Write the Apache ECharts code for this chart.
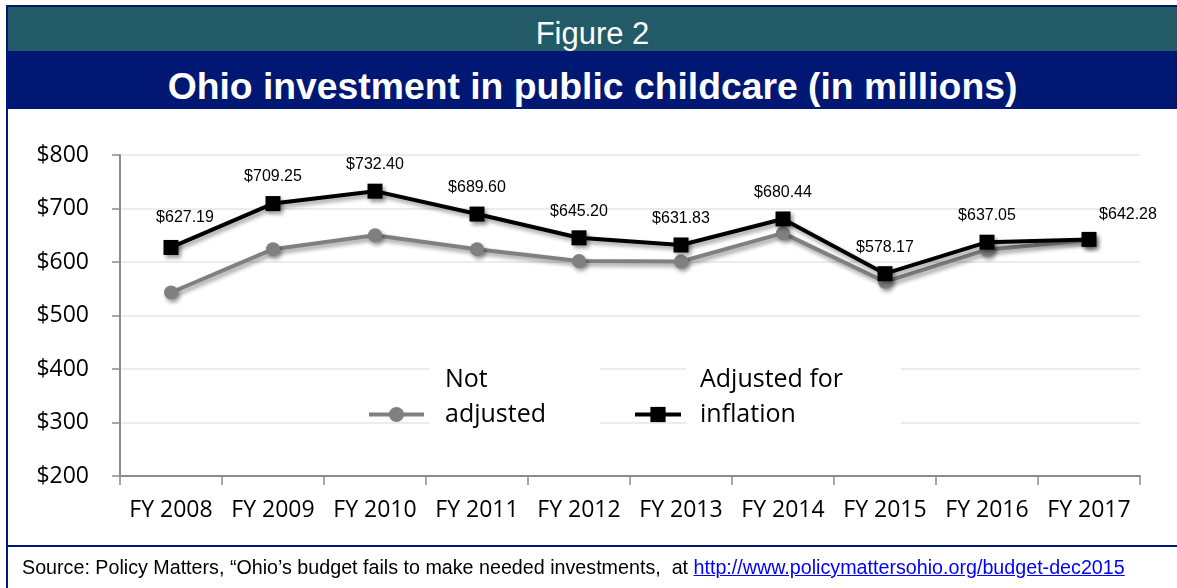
<!DOCTYPE html>
<html>
<head>
<meta charset="utf-8">
<script src="https://cdn.jsdelivr.net/npm/echarts@6/dist/echarts.min.js"></script>
<style>
  html, body { margin: 0; padding: 0; background: #fff; }
  #page { position: relative; width: 1177px; height: 588px; overflow: hidden; background: #fff; }
  #chart { position: absolute; left: 0; top: 0; width: 1177px; height: 588px; }
  .bar { position: absolute; }
  #borderTop { left: 6px; top: 5px; width: 1171px; height: 2px; background: #001870; }
  #borderLeft { left: 6px; top: 5px; width: 2px; height: 583px; background: #001870; }
  #figBand { left: 8px; top: 7px; width: 1169px; height: 44px; background: #235a68; }
  #titleBand { left: 8px; top: 51px; width: 1169px; height: 58px; background: #001873; }
  #srcRule { left: 8px; top: 545px; width: 1169px; height: 2px; background: #001870; }
  .head { position: absolute; left: 8px; width: 1169px; text-align: center; color: #fff;
          font-family: "Liberation Sans", Arial, sans-serif; line-height: 1; white-space: nowrap; }
  #figLabel { top: 18px; font-size: 31px; }
  #mainTitle { top: 68px; font-size: 37.3px; font-weight: bold; }
  #source { position: absolute; left: 22px; top: 558px; font-family: "Liberation Sans", Arial, sans-serif;
            font-size: 19.7px; line-height: 1; color: #000; white-space: nowrap; }
  #source a { color: #0000ff; text-decoration: underline; }
</style>
</head>
<body>
<div id="page">
  <div id="chart"></div>
  <div class="bar" id="figBand"></div>
  <div class="bar" id="titleBand"></div>
  <div class="bar" id="borderTop"></div>
  <div class="bar" id="borderLeft"></div>
  <div class="bar" id="srcRule"></div>
  <div class="head" id="figLabel">Figure 2</div>
  <div class="head" id="mainTitle">Ohio investment in public childcare (in millions)</div>
  <div id="source">Source: Policy Matters, “Ohio’s budget fails to make needed investments,&nbsp; at <a href="http://www.policymattersohio.org/budget-dec2015">http://www.policymattersohio.org/budget-dec2015</a></div>
</div>
<script>
// Fiscal years on the category axis
const years = ['FY 2008', 'FY 2009', 'FY 2010', 'FY 2011', 'FY 2012',
               'FY 2013', 'FY 2014', 'FY 2015', 'FY 2016', 'FY 2017'];

// Spending in millions of dollars
const notAdjusted = [543, 624, 650, 624, 602, 601, 654, 563, 623, 641];
const adjustedForInflation = [627.19, 709.25, 732.40, 689.60, 645.20,
                              631.83, 680.44, 578.17, 637.05, 642.28];

// Value axis range and step
const yMin = 200;
const yMax = 800;
const yStep = 100;

const seriesNames = ['Not\nadjusted', 'Adjusted for\ninflation'];

// Nudges for the two end labels so they clear the axis and the edge
const labelNudge = { 0: [14, -3], 9: [39, 2] };

const markerShadow = {
  shadowBlur: 4,
  shadowOffsetX: 2,
  shadowOffsetY: 3,
  shadowColor: 'rgba(0,0,0,0.4)'
};

const axisFont = { fontFamily: '"Open Sans", sans-serif', fontSize: 23, color: '#000' };

function legendBlock(name, left, iconWidth, pad) {
  return {
    data: [name],
    left: left,
    top: 362,
    padding: 0,
    orient: 'horizontal',
    itemWidth: iconWidth,
    itemHeight: 19,
    selectedMode: false,
    formatter: n => n + '\n',
    itemStyle: { shadowBlur: 0, shadowOffsetX: 0, shadowOffsetY: 0, shadowColor: 'transparent' },
    lineStyle: { width: 4, shadowBlur: 0, shadowOffsetX: 0, shadowOffsetY: 0, shadowColor: 'transparent' },
    textStyle: {
      fontFamily: '"Open Sans", sans-serif',
      fontSize: 25,
      lineHeight: 35,
      color: '#000',
      backgroundColor: '#fff',
      padding: pad
    }
  };
}

const chart = echarts.init(document.getElementById('chart'), null, { renderer: 'canvas' });

chart.setOption({
  animation: false,
  backgroundColor: 'transparent',
  grid: { left: 120, right: 37, top: 155, bottom: 112, containLabel: false },
  legend: [
    legendBlock(seriesNames[0], 367, 55, [0, 54, 0, 16]),
    legendBlock(seriesNames[1], 633, 46, [0, 58, 0, 14])
  ],
  xAxis: {
    type: 'category',
    data: years,
    boundaryGap: true,
    axisLine: { show: true, lineStyle: { color: '#8c8c8c', width: 2 } },
    axisTick: { show: true, length: 9, alignWithLabel: false, lineStyle: { color: '#8c8c8c', width: 1.5 } },
    axisLabel: Object.assign({ margin: 23, interval: 0 }, axisFont),
    splitLine: { show: false }
  },
  yAxis: {
    type: 'value',
    min: yMin,
    max: yMax,
    interval: yStep,
    axisLine: { show: true, lineStyle: { color: '#8c8c8c', width: 2 } },
    axisTick: { show: true, length: 8, inside: false, lineStyle: { color: '#8c8c8c', width: 1.5 } },
    axisLabel: Object.assign({ margin: 31, formatter: v => '$' + v }, axisFont),
    splitLine: { show: true, lineStyle: { color: '#ececec', width: 2 } }
  },
  series: [
    {
      name: seriesNames[0],
      type: 'line',
      data: notAdjusted,
      symbol: 'circle',
      symbolSize: 14,
      lineStyle: Object.assign({ color: '#808080', width: 4 }, markerShadow),
      itemStyle: Object.assign({ color: '#808080' }, markerShadow),
      label: { show: false },
      z: 2
    },
    {
      name: seriesNames[1],
      type: 'line',
      data: adjustedForInflation.map((v, i) =>
        labelNudge[i] ? { value: v, label: { offset: labelNudge[i] } } : v),
      symbol: 'rect',
      symbolSize: 15,
      lineStyle: Object.assign({ color: '#000', width: 4 }, markerShadow),
      itemStyle: Object.assign({ color: '#000' }, markerShadow),
      label: {
        show: true,
        position: 'top',
        distance: 11,
        fontFamily: '"Liberation Sans", Arial, sans-serif',
        fontSize: 16,
        color: '#000',
        formatter: p => '$' + Number(p.value).toFixed(2)
      },
      z: 3
    }
  ]
});
</script>
</body>
</html>
